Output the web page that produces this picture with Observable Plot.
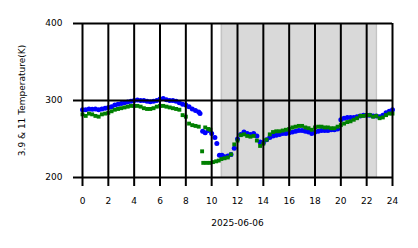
<!DOCTYPE html>
<html><head><meta charset="utf-8">
<script src="https://cdn.jsdelivr.net/npm/d3@7"></script>
<script src="https://cdn.jsdelivr.net/npm/@observablehq/plot@0.6"></script>
<style>
html,body{margin:0;padding:0;background:#fff;}
#chart{width:418px;height:248px;overflow:hidden;}
</style>
</head><body><div id="chart"></div>
<script>
const hoursTicks = [0,2,4,6,8,10,12,14,16,18,20,22,24];
const tempTicks = [200,300,400];
const dateLabel = "2025-06-06";
const yLabel = "3.9 & 11 Temperature(K)";
const shadeStart = 10.75, shadeEnd = 22.75;

const blueHours = [0,0.25,0.5,0.75,1,1.25,1.5,1.75,2,2.25,2.5,2.75,3,3.25,3.5,3.75,4,4.25,4.5,4.75,5,5.25,5.5,5.75,6,6.25,6.5,6.75,7,7.25,7.5,7.75,8,8.25,8.5,8.75,9,9.1,9.3,9.5,9.75,10,10.25,10.4,10.6,10.8,11,11.25,11.5,11.75,12,12.25,12.5,12.75,13,13.25,13.5,13.75,14,14.25,14.5,14.75,15,15.25,15.5,15.75,16,16.25,16.5,16.75,17,17.25,17.5,17.75,18,18.25,18.5,18.75,19,19.25,19.5,19.75,20,20.25,20.5,20.75,21,21.25,21.5,21.75,22,22.25,22.5,22.75,23,23.25,23.5,23.75,24];
const blueTemps = [288,288,289,288.5,289,288,289,290,291,292,294,295,296,297,298,299,300,300.5,300,300,299,298.5,299,300,302,302.5,301,300,300,299,297,295,294,292,289,287,285,283,260,258,261,257,252,244,229,229,227,228,230,238,250,256,259,257,256,257,254,246,245,249,252,254,255,256,257,257,258,259,260,261,261,260,259,257,259,260,261,261,261,262,262,263,275,277,278,278,278,279,280,281,281,281,280,280,279,281,284,286,288];

const greenHours = [0,0.25,0.5,0.75,1,1.25,1.5,1.75,2,2.25,2.5,2.75,3,3.25,3.5,3.75,4,4.25,4.5,4.75,5,5.25,5.5,5.75,6,6.25,6.5,6.75,7,7.25,7.5,7.75,8,8.25,8.5,8.75,9,9.26,9.5,9.75,9.9,9.35,9.6,9.85,10.1,10.35,10.55,10.75,11,11.25,11.5,11.75,12,12.25,12.5,12.75,13,13.25,13.5,13.75,14,14.25,14.5,14.75,15,15.25,15.5,15.75,16,16.25,16.5,16.75,17,17.25,17.5,17.75,18,18.25,18.5,18.75,19,19.25,19.5,19.75,20,20.25,20.5,20.75,21,21.25,21.5,21.75,22,22.25,22.5,22.75,23,23.25,23.5,23.75,24];
const greenTemps = [282,280,283,282,280,279,282,283,284,286,288,289,290,291,292,293,293,293,292,290,289,289,290,292,293,293,292,291,290,289,288,281,279,270,268,267,266,234,265,263,262,219,219,219,220,221,222,224,225,226,230,243,248,255,256,254,253,254,248,241,244,249,256,259,260,260,261,262,263,265,266,267,267,265,264,262,265,266,266,265,265,264,264,266,268,270,272,273,275,277,280,280,281,281,279,280,277,278,281,283,283];

const blue = blueHours.map((h,i)=>({h, t: blueTemps[i]}));
const green = greenHours.map((h,i)=>({h, t: greenTemps[i]}));

const plot = Plot.plot({
  width: 418, height: 248,
  marginLeft: 82, marginRight: 26, marginTop: 23, marginBottom: 71,
  style: {fontFamily: "DejaVu Sans", fontSize: "9px", background: "#fff", color: "#000"},
  x: {domain: [0,24]},
  y: {domain: [200,400]},
  marks: [
    Plot.rectX([{x1: shadeStart, x2: shadeEnd}], {x1: "x1", x2: "x2", y1: 200, y2: 400, fill: "#d9d9d9"}),
    Plot.ruleX([shadeStart, shadeEnd], {y1: 200, y2: 400, stroke: "#c4c4c4", strokeWidth: 1.5}),
    Plot.dot(blue, {x: "h", y: "t", r: 2.5, fill: "#0000ff", stroke: null}),
    Plot.dot(green, {x: "h", y: "t", symbol: "square", r: 2.2, fill: "#008000", stroke: null}),
    Plot.ruleX(hoursTicks, {y1: 200, y2: 400, stroke: "#000", strokeWidth: 2}),
    Plot.ruleY(tempTicks, {x1: 0, x2: 24, stroke: "#000", strokeWidth: 2}),
    Plot.axisX({ticks: hoursTicks, tickSize: 9, tickPadding: 11, strokeWidth: 2, fontSize: 9, label: null, tickFormat: d => String(d)}),
    Plot.axisY({ticks: tempTicks, tickSize: 9, tickPadding: 11, strokeWidth: 2, fontSize: 9, label: null}),
    Plot.text([dateLabel], {frameAnchor: "bottom", dy: 48, fontSize: 9, text: d => d}),
    Plot.text([yLabel], {frameAnchor: "left", dx: -60, rotate: -90, textAnchor: "middle", lineAnchor: "middle", fontSize: 9, text: d => d})
  ]
});
document.getElementById("chart").appendChild(plot);
</script>
</body></html>
